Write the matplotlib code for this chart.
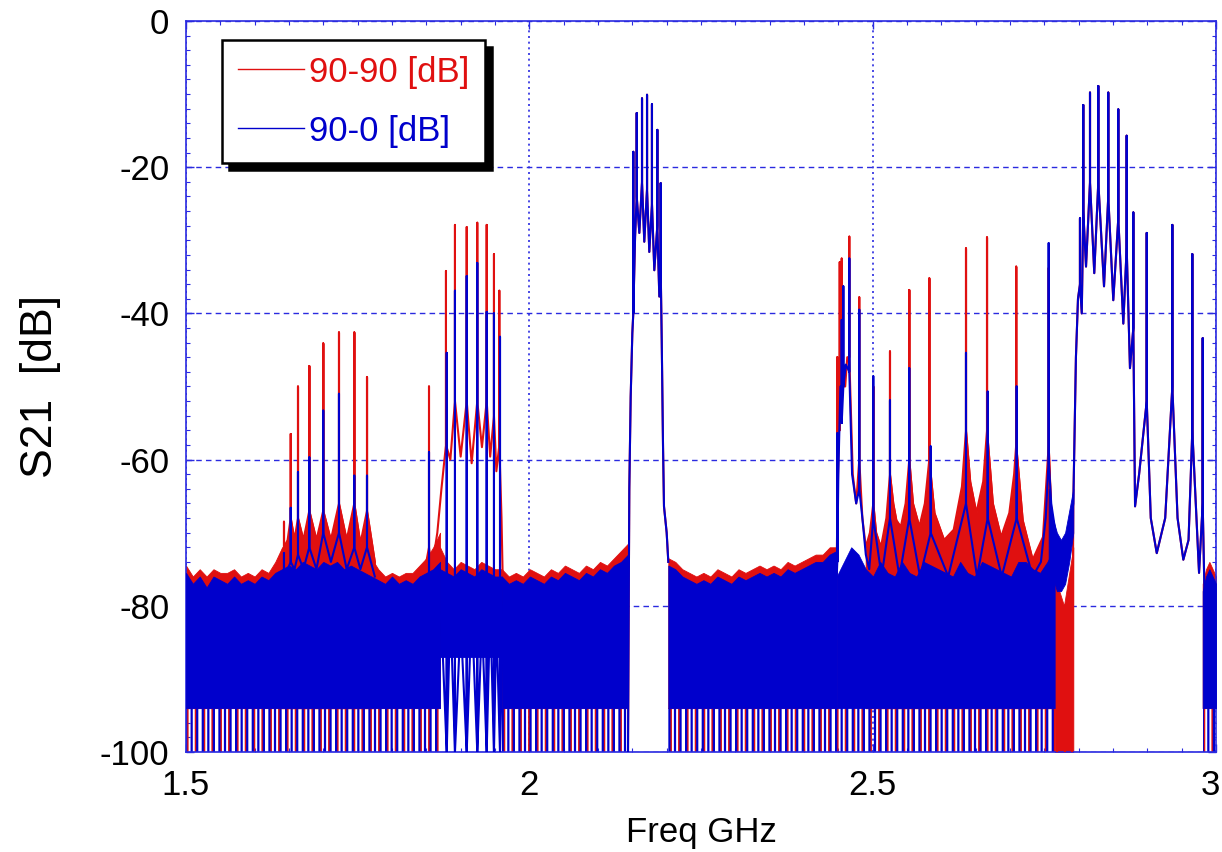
import numpy as np
import matplotlib.pyplot as plt
from matplotlib.ticker import MultipleLocator
from matplotlib.transforms import ScaledTranslation

plt.rcParams['font.family'] = ['Liberation Sans', 'DejaVu Sans']
plt.rcParams['axes.unicode_minus'] = False
plt.rcParams['hatch.linewidth'] = 1.6

RED = '#e01010'
BLUE = '#0000cc'
GRID = '#2a2ae0'

# ---- resonance curves: valley points (NaN = gap) + peaks (freq, top, base) ----
RED_VF = [1.635, 1.648, 1.658, 1.671, 1.690, 1.711, 1.734, 1.754, 1.775, 1.800,
          1.846, 1.858, 1.866, 1.872, 1.885, 1.900, 1.916, 1.931, 1.943, 1.952, 1.9595, 1.9616, 1.966, 1.970,
          2.210,
          2.4476, 2.4500, 2.4520, 2.4600, 2.4630, 2.4710, 2.4760, 2.4850, 2.4900, 2.4960, 2.5050, 2.5120,
          2.5200, 2.5300, 2.5345, 2.5410, 2.5480, 2.5587, 2.5680, 2.5760, 2.5900, 2.6040, 2.6180, 2.6300,
          2.6420, 2.6510, 2.6610, 2.6750, 2.6870, 2.6990, 2.7060, 2.7185, 2.7330, 2.7480,
          2.7620, 2.7650, 2.7684, 2.7760, 2.7800, 2.7850, 2.7903]
RED_VDB = [-74, -71, -71, -71, -71, -71, -71, -71.5, -74, np.nan,
           -76, -75, -70, -64, -60, -59.6, -60.5, -58.3, -59.6, -61.6, -68, -78, -77, np.nan,
           np.nan,
           -74, -60, -52, -50, -46, -62, -66, -68, -72, -70, -70, -72,
           -68, -66, -68.3, -69.2, -66, -66, -69.2, -66, -67.3, -71, -69.6, -63.7,
           -63, -67.3, -63, -66, -70.6, -67.3, -62, -68.3, -73.7, -70.6,
           -72, -78, -100, -90, -100, -88, -100]
RED_PF = [1.6427, 1.6525, 1.6631, 1.6796, 1.6999, 1.7228, 1.7451, 1.7636,
          1.8539, 1.8786, 1.8917, 1.9088, 1.9242, 1.9379, 1.9485, 1.9563,
          2.4485, 2.4520, 2.4549, 2.4660, 2.4805, 2.5009, 2.5252, 2.5533, 2.5825, 2.6359, 2.6665, 2.7090,
          2.7563]
RED_PTOP = [-68.5, -56.5, -50, -47.2, -44.1, -42.6, -42.6, -48.7,
            -50, -34.2, -27.9, -28.2, -27.6, -27.9, -31.9, -36.9,
            -46, -33, -32.5, -29.5, -37.8, -50, -45.2, -36.8, -35.2, -31.1, -29.6, -33.6,
            -33.8]
RED_PBASE = [-72, -68, -68, -67, -67, -66, -66, -67,
             -72, -58, -52, -52, -52, -52, -54, -58,
             -68, -56, -50, -46, -60, -66, -62, -60, -60, -56, -56, -58,
             -58]

BLUE_VF = [1.635, 1.648, 1.658, 1.671, 1.690, 1.711, 1.734, 1.754, 1.775, 1.800,
           1.846, 1.858, 1.866, 1.872, 1.885, 1.900, 1.916, 1.931, 1.943, 1.952, 1.962, 1.966, 1.970,
           2.210,
           2.4476, 2.4500, 2.4530, 2.4610, 2.4700, 2.4760, 2.4850, 2.4900, 2.4950, 2.5130, 2.5390,
           2.5690, 2.6100, 2.6520, 2.6880, 2.7330, 2.7450, 2.7520,
           2.7600, 2.7680, 2.7780, 2.7850]
BLUE_VDB = [-77, -75, -75, -75, -75, -74, -75, -75, -76, np.nan,
            -77, -78, -80, -82, -80, -82, -80, -82, -80, -82, -80, -78, np.nan,
            np.nan,
            -76, -62, -50, -47, -62, -66, -68, -73, -75, -76, -76,
            -76, -76, -76, -76, -76, -74, -68,
            -66, -71, -73, -71]
BLUE_PF = [1.6427, 1.6525, 1.6631, 1.6796, 1.6999, 1.7228, 1.7451, 1.7636,
           1.8539, 1.8797, 1.8917, 1.9088, 1.9242, 1.9379, 1.9485, 1.9573,
           2.4485, 2.4549, 2.4573, 2.4660, 2.4805, 2.5009, 2.5252, 2.5533, 2.5845, 2.6359, 2.6675,
           2.7097, 2.7563]
BLUE_PTOP = [-72.8, -66.6, -61.7, -59.7, -53.3, -51, -62.2, -62.2,
             -59, -45.4, -36.9, -34.9, -33.1, -39.8, -40, -43.2,
             -56.4, -40.9, -36.3, -32.5, -39.5, -48.6, -51.9, -47.5, -58.2, -45.4, -50.7,
             -50, -30.4]
BLUE_PBASE = [-76, -74, -73, -72, -70, -70, -72, -72,
              -78, -100, -100, -100, -100, -100, -100, -100,
              -74, -55, -50, -48, -64, -68, -68, -68, -70, -66, -68,
              -68, -60]

# passbands (both traces lie on top of each other here)
PASS_VF = [2.1437, 2.1456, 2.1476, 2.1500, 2.1540, 2.1602, 2.1674, 2.1747, 2.1820, 2.1893, 2.1928,
           2.1947, 2.1961, 2.2000, 2.2024,
           2.7922, 2.7960, 2.7990, 2.8045, 2.8107, 2.8227, 2.8369, 2.8504, 2.8650, 2.8747, 2.8821,
           2.8880, 2.9050, 2.9137, 2.9260, 2.9440, 2.9524, 2.9600, 2.9753, 2.9840]
PASS_VDB = [-100, -64, -51.4, -42.7, -29.5, -29, -30.2, -31.6, -34.1, -37.7, -43.6,
            -58.2, -66.4, -70, -74,
            -66, -46, -38, -40, -33.6, -34.5, -36.3, -38.2, -41.4, -47.5, -66.4,
            -62, -68, -72.8, -68, -68, -73.7, -71, -75.5, -82]
PASS_PF = [2.1514, 2.1564, 2.1641, 2.1714, 2.1786, 2.1864, 2.1913,
           2.8019, 2.8067, 2.8165, 2.8286, 2.8431, 2.8577, 2.8699, 2.8796, 2.8991, 2.9364, 2.9655, 2.9806]
PASS_PTOP = [-17.9, -12.6, -10.6, -10.1, -11.4, -14.9, -22.2,
             -27, -11.5, -9.8, -8.9, -9.8, -12.1, -15.7, -26.2, -29, -27.9, -31.9, -43.4]
PASS_PBASE = [-40, -24, -22, -23, -25, -28, -34,
              -36, -26, -22, -22, -24, -27, -31, -42, -52, -50, -56, -66]

# ---- noise floor envelopes (top edge over each span) ----
FLOOR_SPANS = {'A': (1.50, 1.87), 'B': (1.87, 1.96), 'C': (1.96, 2.1437), 'D': (2.2024, 2.4476),
               'E': (2.4476, 2.7650), 'E2': (2.7563, 2.7922), 'T': (2.7650, 2.7922),
               'F': (2.9806, 3.0)}

BLUE_FLOOR_A = [-75.5, -77, -76, -77.5, -76, -76.5, -77, -76, -77, -76.5, -77, -76, -76.5, -75.5,
                -75, -74.5, -75, -74, -74.5, -75, -74, -74.5, -74, -75, -74.5, -75, -75.5, -76,
                -76.5, -77, -76, -77, -76.5, -77, -76, -75.5, -75, -74]
RED_FLOOR_A = [-74.5, -76, -75, -76, -75, -75.5, -75.5, -75, -76, -75.5, -76, -75, -75.5, -74,
               -72, -71.5, -71.5, -71, -71.5, -71.5, -71, -71.5, -71.5, -72, -71.5, -72, -72.5, -73.5,
               -75, -76, -75.5, -76, -75.5, -75.5, -74.5, -73.5, -72, -70]
BLUE_FLOOR_B = [-75, -75.5, -76, -75, -75.5, -76, -75, -75.5, -76, -76]
RED_FLOOR_B = [-72, -74, -75, -74, -74.5, -75, -74, -74.5, -75, -75]
BLUE_FLOOR_C = [-76, -77, -76.5, -77, -76, -76.5, -77, -76, -76.5, -75.5, -76, -76.5, -75.5, -76,
                -75, -75.5, -74.5, -74, -73]
RED_FLOOR_C = [-75, -76, -75.5, -76, -75, -75.5, -76, -75, -75.5, -74.5, -75, -75.5, -74.5, -75,
               -74, -74.5, -73.5, -72.5, -71.5]
BLUE_FLOOR_D = [-74.5, -75, -76, -76.5, -77, -76.5, -77, -76, -76.5, -77, -76, -76.5, -76, -75.5,
                -76, -75.5, -76, -75, -75.5, -75, -74.5, -74, -74, -73, -72.5]
RED_FLOOR_D = [-73.5, -74, -75, -75.5, -76, -75.5, -76, -75, -75.5, -76, -75, -75.5, -75, -74.5,
               -75, -74.5, -75, -74, -74.5, -74, -73.5, -73, -73, -72, -72]
BLUE_FLOOR_E = [-76, -74, -72, -73, -75, -76, -74, -75.5, -76, -74, -75.5, -76, -74, -74.5, -75,
                -75.5, -76, -74, -75.5, -76, -74, -74.5, -75, -75.5, -76, -74, -74, -75, -75.5,
                -74, -72]
BLUE_FLOOR_E2 = [-64, -68, -70, -71, -70, -67, -64]
BLUE_FLOOR_E2_LOW = [-74, -76, -78, -78, -77, -74, -70]
RED_FLOOR_T = [-76, -78, -80, -76, -72]
BLUE_FLOOR_F = [-78, -76, -75, -76, -77]
RED_FLOOR_F = [-77, -75, -74, -75, -76]

CORE_LOW = -94   # below this the floor turns into sparse spikes

BLUE_FLOORS = [('A', BLUE_FLOOR_A, CORE_LOW), ('B', BLUE_FLOOR_B, -87), ('C', BLUE_FLOOR_C, CORE_LOW),
               ('D', BLUE_FLOOR_D, CORE_LOW), ('E', BLUE_FLOOR_E, CORE_LOW),
               ('E2', BLUE_FLOOR_E2, BLUE_FLOOR_E2_LOW), ('F', BLUE_FLOOR_F, CORE_LOW)]
RED_FLOORS = [('A', RED_FLOOR_A, CORE_LOW), ('B', RED_FLOOR_B, -85), ('C', RED_FLOOR_C, CORE_LOW),
              ('D', RED_FLOOR_D, CORE_LOW), ('T', RED_FLOOR_T, -100), ('F', RED_FLOOR_F, CORE_LOW)]
SPIKE_SPANS = ['A', 'C', 'D', 'E', 'F']
RED_FILLED = [(1.6350, 1.7750), (2.4900, 2.7650)]


def build_trace(vf, vdb, pf, ptop, pbase):
    f = list(vf) + list(PASS_VF)
    d = list(vdb) + list(PASS_VDB)
    for x, top, base in zip(list(pf) + PASS_PF, list(ptop) + PASS_PTOP, list(pbase) + PASS_PBASE):
        f += [x, x, x]
        d += [base, top, base]
    order = np.argsort(f, kind='stable')
    return np.array(f)[order], np.array(d)[order]


def draw_floors(ax, floors, color, z):
    for key, top, bottom in floors:
        f0, f1 = FLOOR_SPANS[key]
        fx = np.linspace(f0, f1, len(top))
        ax.fill_between(fx, bottom, top, color=color, lw=0.6, edgecolor=color, zorder=z)


fig = plt.figure(figsize=(12.22, 8.52), dpi=100)
ax = fig.add_axes([0.1522, 0.1174, 0.8429, 0.8580])

rf, rdb = build_trace(RED_VF, RED_VDB, RED_PF, RED_PTOP, RED_PBASE)
bf, bdb = build_trace(BLUE_VF, BLUE_VDB, BLUE_PF, BLUE_PTOP, BLUE_PBASE)

# sparse spikes at the bottom of the noise floor
for key in SPIKE_SPANS:
    f0, f1 = FLOOR_SPANS[key]
    ax.fill_between([f0, f1], -100, CORE_LOW, facecolor='none', edgecolor=RED, hatch='||', lw=0, zorder=1)
    ax.fill_between([f0, f1], -100, CORE_LOW, facecolor='none', edgecolor=BLUE, hatch='|||', lw=0, zorder=1.5)

draw_floors(ax, RED_FLOORS, RED, 2)
for f0, f1 in RED_FILLED:
    ax.fill_between(rf, rdb, CORE_LOW, where=(rf >= f0) & (rf <= f1), color=RED, lw=0.8, zorder=2)
red_line, = ax.plot(rf, rdb, color=RED, lw=1.5, zorder=3, label='90-90 [dB]')

draw_floors(ax, BLUE_FLOORS, BLUE, 4)
blue_line, = ax.plot(bf, bdb, color=BLUE, lw=1.5, zorder=5, label='90-0 [dB]')

ax.set_xlim(1.5, 3.0)
ax.set_ylim(-100, 0)
ax.set_xticks([1.5, 2.0, 2.5, 3.0])
ax.set_xticklabels(['1.5', '2', '2.5', '3'])
ax.set_yticks([-100, -80, -60, -40, -20, 0])
ax.xaxis.set_minor_locator(MultipleLocator(0.05))
ax.yaxis.set_minor_locator(MultipleLocator(2))
ax.tick_params(which='both', direction='in', colors=GRID, labelcolor='black',
               top=True, right=True, labelsize=25)
ax.tick_params(which='major', length=6, width=1)
ax.tick_params(which='minor', length=3, width=0.8)
ax.tick_params(axis='x', pad=12)
ax.tick_params(axis='y', pad=12)

last = ax.xaxis.get_major_ticks()[-1].label1
last.set_transform(last.get_transform() + ScaledTranslation(-0.06, 0, fig.dpi_scale_trans))

ax.set_axisbelow(True)
ax.grid(axis='y', which='major', color=GRID, linestyle=(0, (4, 3)), lw=1.0)
ax.grid(axis='x', which='major', color=GRID, linestyle=(0, (1.2, 2.2)), lw=1.2)
for sp in ax.spines.values():
    sp.set_color(GRID)
    sp.set_linewidth(1.2)

ax.set_xlabel('Freq GHz', fontsize=25, labelpad=10)
ax.set_ylabel('S21  [dB]', fontsize=32, labelpad=28)

leg = ax.legend(handles=[red_line, blue_line], loc='upper left', bbox_to_anchor=(0.035, 0.974),
                borderaxespad=0, fontsize=25, labelcolor='linecolor', handlelength=1.9,
                handletextpad=0.15, labelspacing=0.75, borderpad=0.45, fancybox=False,
                shadow={'color': 'black', 'alpha': 1.0, 'ox': 5, 'oy': -5})
leg.get_frame().set_edgecolor('black')
leg.get_frame().set_linewidth(1.8)
leg.get_frame().set_alpha(1.0)
for h in leg.legend_handles:
    h.set_linewidth(1.0)

fig.savefig('out.png', dpi=100)
